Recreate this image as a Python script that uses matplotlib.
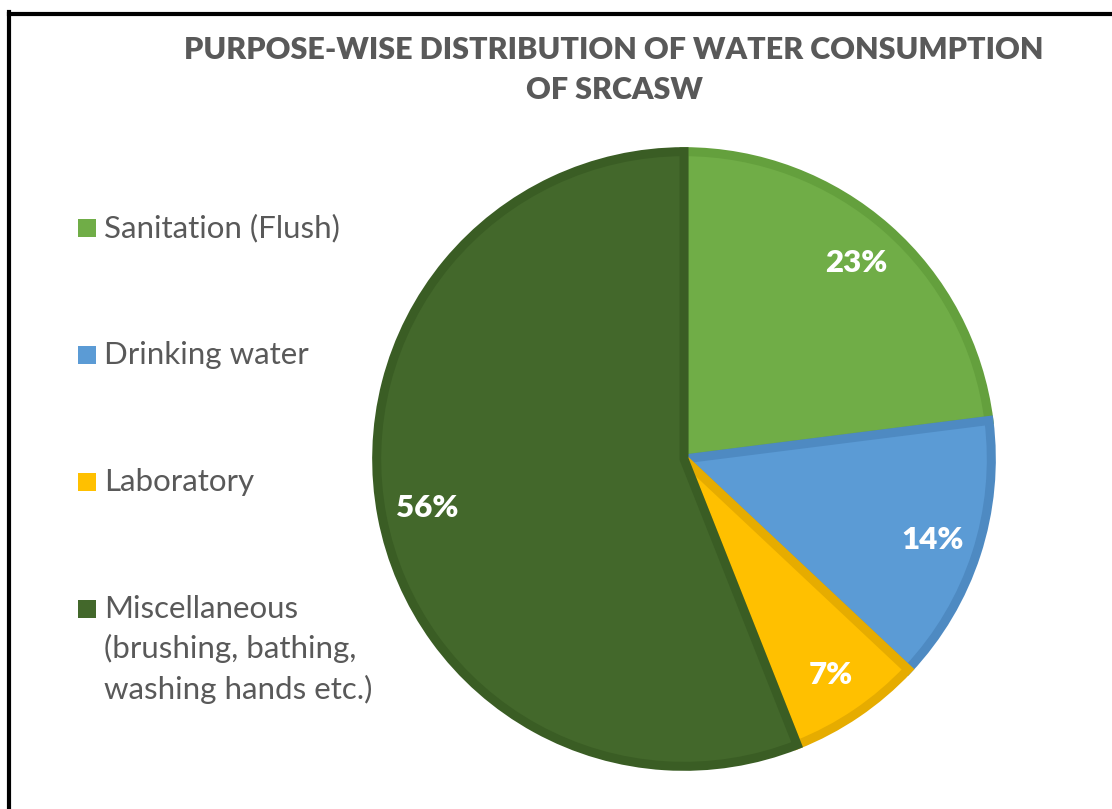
import matplotlib
matplotlib.use("Agg")
import matplotlib.pyplot as plt
from matplotlib.lines import Line2D
from matplotlib.patches import Rectangle

plt.rcParams["font.family"] = ["Lato", "DejaVu Sans"]

# 数据
categories = ["Sanitation (Flush)", "Drinking water", "Laboratory",
              "Miscellaneous\n(brushing, bathing,\nwashing hands etc.)"]
shares = [23, 14, 7, 56]
fills = ["#70AD47", "#5B9BD5", "#FFC000", "#43682B"]
edges = ["#64A03D", "#4E8AC2", "#E6AC00", "#3A5D24"]

TEXT = "#595959"
W, H = 1112, 809

fig = plt.figure(figsize=(W / 100, H / 100), dpi=100)
fig.patch.set_facecolor("white")

# 饼图位置（像素换算）
cx, cy, r = 684, 459, 312
ax = fig.add_axes([(cx - r) / W, (H - cy - r) / H, 2 * r / W, 2 * r / H])
wedges, _, autotexts = ax.pie(
    shares, colors=fills, startangle=90, counterclock=False,
    radius=0.985, autopct="%d%%", pctdistance=0.85,
    wedgeprops=dict(linewidth=6.5),
    textprops=dict(color="white", fontsize=22.5, fontweight="heavy"),
)
for w, ec in zip(wedges, edges):
    w.set_edgecolor(ec)
ax.set_xlim(-1, 1)
ax.set_ylim(-1, 1)
ax.set_aspect("equal")
ax.axis("off")

# 标题
fig.text(614 / W, 1 - 50 / H, "PURPOSE-WISE DISTRIBUTION OF WATER CONSUMPTION",
         ha="center", va="center", fontsize=22, fontweight="heavy", color=TEXT)
fig.text(614 / W, 1 - 90 / H, "OF SRCASW",
         ha="center", va="center", fontsize=22, fontweight="heavy", color=TEXT)

# 图例（手动）
leg_y = [228, 355, 482, 609]
for y, lab, c in zip(leg_y, categories, fills):
    fig.patches.append(Rectangle((78 / W, 1 - (y + 9) / H), 18 / W, 18 / H,
                                 transform=fig.transFigure, facecolor=c,
                                 edgecolor="none"))
    fig.text(104 / W, 1 - (y - 14) / H, lab, ha="left", va="top",
             fontsize=22.5, color=TEXT, linespacing=1.47)

# 边框（上、左）
fig.add_artist(Line2D([8.5 / W, 1], [1 - 13.5 / H, 1 - 13.5 / H],
                      transform=fig.transFigure, color="black", linewidth=3))
fig.add_artist(Line2D([8.5 / W, 8.5 / W], [1 - 12 / H, 0],
                      transform=fig.transFigure, color="black", linewidth=3))

fig.savefig("out.png", dpi=100, facecolor="white")
